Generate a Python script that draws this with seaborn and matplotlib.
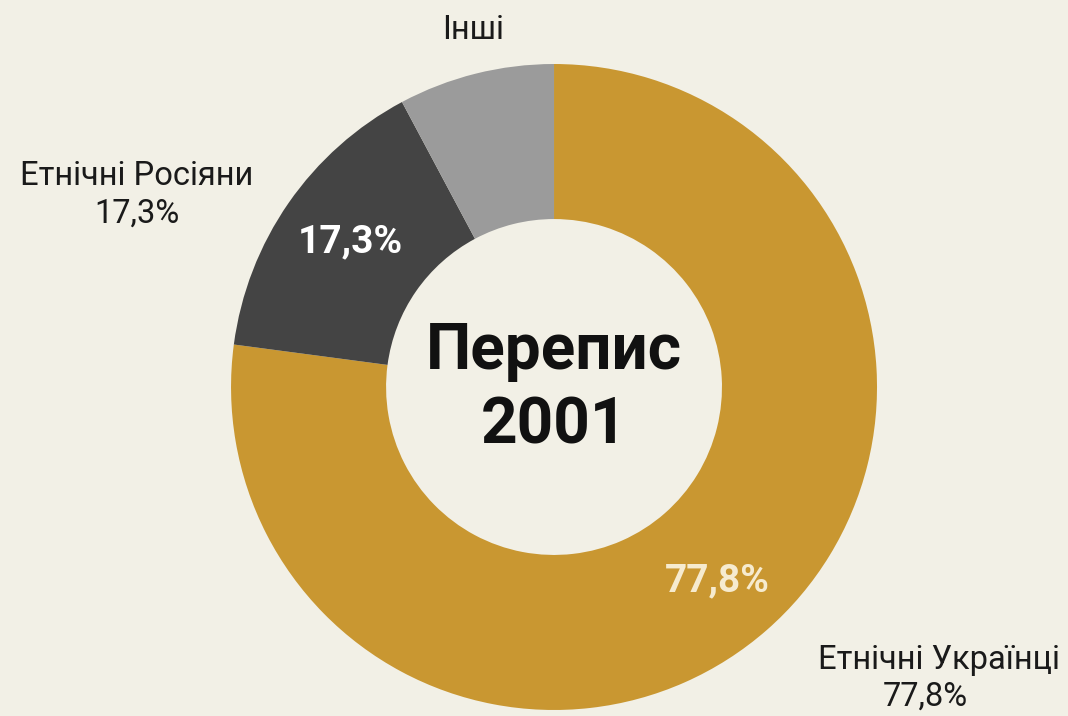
import matplotlib
matplotlib.use("Agg")
import matplotlib.pyplot as plt
import seaborn as sns

# дані
groups = ["Етнічні Українці", "Етнічні Росіяни", "Інші"]
shares = [77.1, 15.1, 7.8]  # частки, як намальовано на діаграмі
pct_labels = ["77,8%", "17,3%", ""]
colors = ["#C99731", "#444444", "#9B9B9B"]
bg = "#F2F0E6"

sns.set_theme(style="white", rc={"figure.facecolor": bg, "axes.facecolor": bg})
plt.rcParams['font.family'] = ['Roboto', 'DejaVu Sans']

fig = plt.figure(figsize=(10.68, 7.16), dpi=100)
ax = fig.add_axes([0.2163, 0.0084, 0.6049, 0.9022])

wedges, _ = ax.pie(shares, colors=colors, startangle=90, counterclock=False,
                   radius=1, wedgeprops=dict(width=0.48, linewidth=0))
ax.set_xlim(-1, 1)
ax.set_ylim(-1, 1)
ax.set_aspect("equal")
ax.axis("off")

# центр
ax.text(0, 0.11, "Перепис", ha="center", va="center", fontsize=46,
        fontweight="bold", color="#111111")
ax.text(0, -0.12, "2001", ha="center", va="center", fontsize=46,
        fontweight="bold", color="#111111")

# значення всередині кільця
ax.text(-0.63, 0.45, pct_labels[1], ha="center", va="center", fontsize=28,
        fontweight="bold", color="white")
ax.text(0.505, -0.60, pct_labels[0], ha="center", va="center", fontsize=28,
        fontweight="bold", color="#F6EBCF")

# підписи ззовні
fs = 23.5
fig.text(473 / 1068, 1 - 30 / 716, groups[2], ha="center", va="center",
         fontsize=fs, color="#1A1A1A")
fig.text(137 / 1068, 1 - 176 / 716, groups[1], ha="center", va="center",
         fontsize=fs, color="#1A1A1A")
fig.text(137 / 1068, 1 - 214 / 716, pct_labels[1], ha="center", va="center",
         fontsize=fs, color="#1A1A1A")
fig.text(1060 / 1068, 1 - 660 / 716, groups[0], ha="right", va="center",
         fontsize=fs, color="#1A1A1A")
fig.text(925 / 1068, 1 - 697 / 716, pct_labels[0], ha="center", va="center",
         fontsize=fs, color="#1A1A1A")

fig.savefig("out.png", dpi=100, facecolor=bg)
